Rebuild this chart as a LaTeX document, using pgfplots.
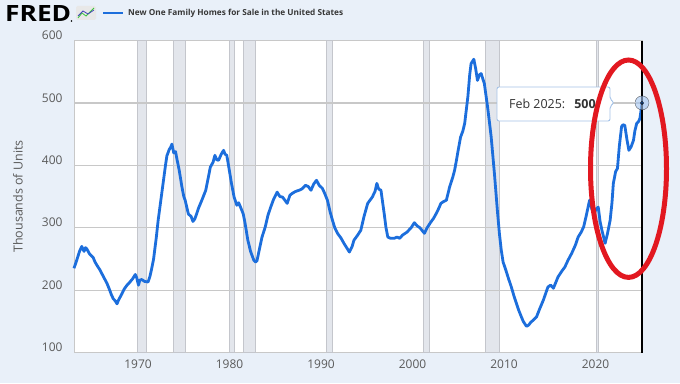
\documentclass[border=0pt]{standalone}
\usepackage{pgfplots}
\pgfplotsset{compat=1.18}
\usepackage{fontspec}
\setmainfont{Open Sans}
\definecolor{bg}{RGB}{233,240,249}
\definecolor{fredblue}{RGB}{28,110,220}
\definecolor{gridc}{RGB}{200,200,200}
\definecolor{recfill}{RGB}{227,230,236}
\definecolor{recedge}{RGB}{196,198,204}
\definecolor{tickc}{RGB}{90,90,90}
\definecolor{ttborder}{RGB}{165,195,232}
\definecolor{ellred}{RGB}{226,24,32}
\begin{document}
\begin{tikzpicture}[x=1bp,y=1bp]
\fill[bg] (0,0) rectangle (680,383);
\begin{axis}[at={(74bp,30.5bp)}, anchor=south west, scale only axis,
  width=568bp, height=312bp,
  xmin=1963, xmax=2025.083, ymin=100, ymax=600,
  clip=false,
  axis background/.style={fill=white},
  xtick={1970,1980,...,2020}, ytick={100,200,...,600},
  tick style={draw=none},
  axis line style={draw=gridc, line width=1bp},
  ticklabel style={font=\fontsize{12}{14}\selectfont, text=tickc},
  /pgf/number format/1000 sep={}, /pgf/number format/assume math mode=true,
  xticklabel style={yshift=-4bp},
  yticklabel style={xshift=-8bp, yshift=5bp},
  ylabel={Thousands of Units},
  every axis y label/.style={at={(axis description cs:0,0.5)}, xshift=-56bp, rotate=90, anchor=center,
    font=\fontsize{12.5}{14}\selectfont, text=tickc},
  rec/.style={fill=recfill, draw=recedge, line width=0.9bp},
  grd/.style={draw=gridc, line width=1.2bp},
]
% recession bars
\addplot[rec] coordinates {(1969.92,100)(1969.92,600)(1970.87,600)(1970.87,100)} -- cycle;
\addplot[rec] coordinates {(1973.87,100)(1973.87,600)(1975.2,600)(1975.2,100)} -- cycle;
\addplot[rec] coordinates {(1980.0,100)(1980.0,600)(1980.5,600)(1980.5,100)} -- cycle;
\addplot[rec] coordinates {(1981.5,100)(1981.5,600)(1982.87,600)(1982.87,100)} -- cycle;
\addplot[rec] coordinates {(1990.55,100)(1990.55,600)(1991.2,600)(1991.2,100)} -- cycle;
\addplot[rec] coordinates {(2001.2,100)(2001.2,600)(2001.87,600)(2001.87,100)} -- cycle;
\addplot[rec] coordinates {(2007.95,100)(2007.95,600)(2009.5,600)(2009.5,100)} -- cycle;
\addplot[rec] coordinates {(2020.1,100)(2020.1,600)(2020.3,600)(2020.3,100)} -- cycle;
% grid lines
\addplot[grd] coordinates {(1963,200)(2025.083,200)};
\addplot[grd] coordinates {(1963,300)(2025.083,300)};
\addplot[grd] coordinates {(1963,400)(2025.083,400)};
\addplot[grd] coordinates {(1963,500)(2025.083,500)};
% data
\addplot[fredblue, line width=2.8bp, line join=round] table {
x y
1963.0 235
1963.3 248
1963.6 262
1963.85 270
1964.1 262
1964.25 268
1964.4 266
1964.7 258
1965.1 252
1965.3 245
1965.5 240
1965.85 232
1966.2 222
1966.6 211
1966.9 200
1967.1 192
1967.3 186
1967.5 183
1967.7 178
1967.9 185
1968.2 193
1968.5 202
1968.8 208
1969.0 211
1969.4 218
1969.7 225
1969.85 220
1970.05 208
1970.2 216
1970.4 217
1970.7 214
1971.1 213
1971.3 222
1971.5 235
1971.7 250
1972.0 285
1972.2 312
1972.5 345
1972.8 378
1973.0 400
1973.15 415
1973.4 425
1973.6 430
1973.7 434
1973.9 420
1974.1 422
1974.25 410
1974.5 392
1974.8 365
1975.0 350
1975.15 344
1975.5 322
1975.8 318
1976.0 310
1976.2 314
1976.4 322
1976.6 331
1977.0 345
1977.4 360
1977.7 382
1977.9 397
1978.2 405
1978.4 416
1978.6 409
1978.8 408
1979.1 418
1979.35 424
1979.5 418
1979.7 416
1980.0 390
1980.2 372
1980.5 349
1980.8 336
1981.0 340
1981.2 333
1981.5 322
1981.7 307
1982.0 280
1982.3 262
1982.65 248
1982.85 245
1983.0 247
1983.3 268
1983.55 285
1983.9 301
1984.2 320
1984.5 333
1984.8 345
1985.2 357
1985.5 350
1985.8 349
1986.0 345
1986.3 339
1986.6 352
1986.85 355
1987.2 358
1987.6 360
1987.9 362
1988.3 368
1988.6 366
1988.9 360
1989.2 370
1989.5 376
1989.8 368
1990.15 363
1990.4 355
1990.7 344
1991.0 325
1991.25 312
1991.5 300
1991.8 291
1992.2 283
1992.5 275
1992.8 268
1993.1 261
1993.4 270
1993.6 280
1994.0 288
1994.35 296
1994.7 318
1995.1 339
1995.4 345
1995.6 349
1995.9 358
1996.1 371
1996.3 362
1996.55 360
1996.9 323
1997.1 300
1997.3 285
1997.6 283
1998.0 283
1998.3 285
1998.6 283
1998.9 288
1999.1 290
1999.4 293
1999.85 300
2000.2 308
2000.5 303
2000.8 300
2001.3 291
2001.6 300
2002.0 309
2002.3 315
2002.6 323
2002.9 332
2003.1 339
2003.4 342
2003.7 344
2004.05 365
2004.4 381
2004.6 392
2004.8 408
2005.0 425
2005.25 445
2005.5 455
2005.7 467
2006.05 510
2006.25 545
2006.4 563
2006.7 570
2006.9 555
2007.1 536
2007.3 545
2007.5 547
2007.85 531
2008.0 515
2008.2 494
2008.4 470
2008.6 445
2008.95 387
2009.3 323
2009.5 290
2009.7 264
2009.9 245
2010.2 232
2010.5 218
2010.8 205
2011.1 190
2011.35 179
2011.6 168
2011.9 157
2012.1 150
2012.45 142
2012.7 144
2012.9 148
2013.2 152
2013.55 157
2013.9 170
2014.3 184
2014.8 205
2015.1 208
2015.4 203
2015.9 221
2016.3 230
2016.65 237
2017.0 248
2017.4 259
2017.8 272
2018.1 285
2018.4 292
2018.7 301
2019.0 320
2019.35 344
2019.6 330
2019.8 323
2020.1 330
2020.3 333
2020.5 310
2020.7 296
2021.05 275
2021.3 290
2021.6 312
2021.8 340
2021.95 371
2022.2 390
2022.4 395
2022.6 430
2022.85 462
2023.0 465
2023.2 464
2023.45 440
2023.65 424
2023.9 430
2024.15 440
2024.3 455
2024.5 467
2024.7 470
2024.85 475
2025.0 490
2025.083 500
};
% cursor line
\addplot[black, line width=1.3bp] coordinates {(2025.083,100) (2025.083,600)};
\addplot[only marks, mark=*, mark size=7bp, mark options={fill=fredblue!40, draw=none, opacity=0.6}] coordinates {(2025.083,500)};
\addplot[only marks, mark=*, mark size=1.6bp, mark options={fill=fredblue!70!black, draw=none}] coordinates {(2025.083,500)};
\end{axis}
% header
\node[anchor=west, inner sep=0pt] at (5,370) {\resizebox{66bp}{16bp}{\bfseries FRED}};
\fill[black] (71.5,362) circle (0.8);
\fill[gray!18, rounded corners=1.5] (76,363) rectangle (96,377);
\draw[green!55!gray, line width=0.8] (78,365)--(82,370)--(86,367)--(94,375);
\draw[blue!45!gray, line width=0.8] (78,367)--(83,372)--(88,369)--(94,373);
\draw[fredblue, line width=2.2bp] (103,370) -- (123,370);
\node[anchor=west, inner sep=0pt, text={rgb,255:red,55;green,55;blue,55}] at (128,370) {\resizebox{215bp}{!}{\bfseries New One Family Homes for Sale in the United States}};
% tooltip
\draw[gridc, line width=1bp] (614,280.3) -- (636,280.3);
\draw[fill=white, draw=ttborder, line width=0.9bp, rounded corners=2bp] (497,262) -- (497,296) -- (610,296) -- (610,284) -- (614,280.3) -- (610,276.5) -- (610,262) -- cycle;
\node[anchor=west, inner sep=0pt, font=\fontsize{12.5}{14}\selectfont, text={rgb,255:red,50;green,50;blue,50}] at (509,279) {Feb 2025:\hspace{9bp}\textbf{500}};
% red ellipse
\draw[ellred, line width=5bp] (628.5,214.3) ellipse [x radius=38, y radius=108.7];
\end{tikzpicture}
\end{document}
